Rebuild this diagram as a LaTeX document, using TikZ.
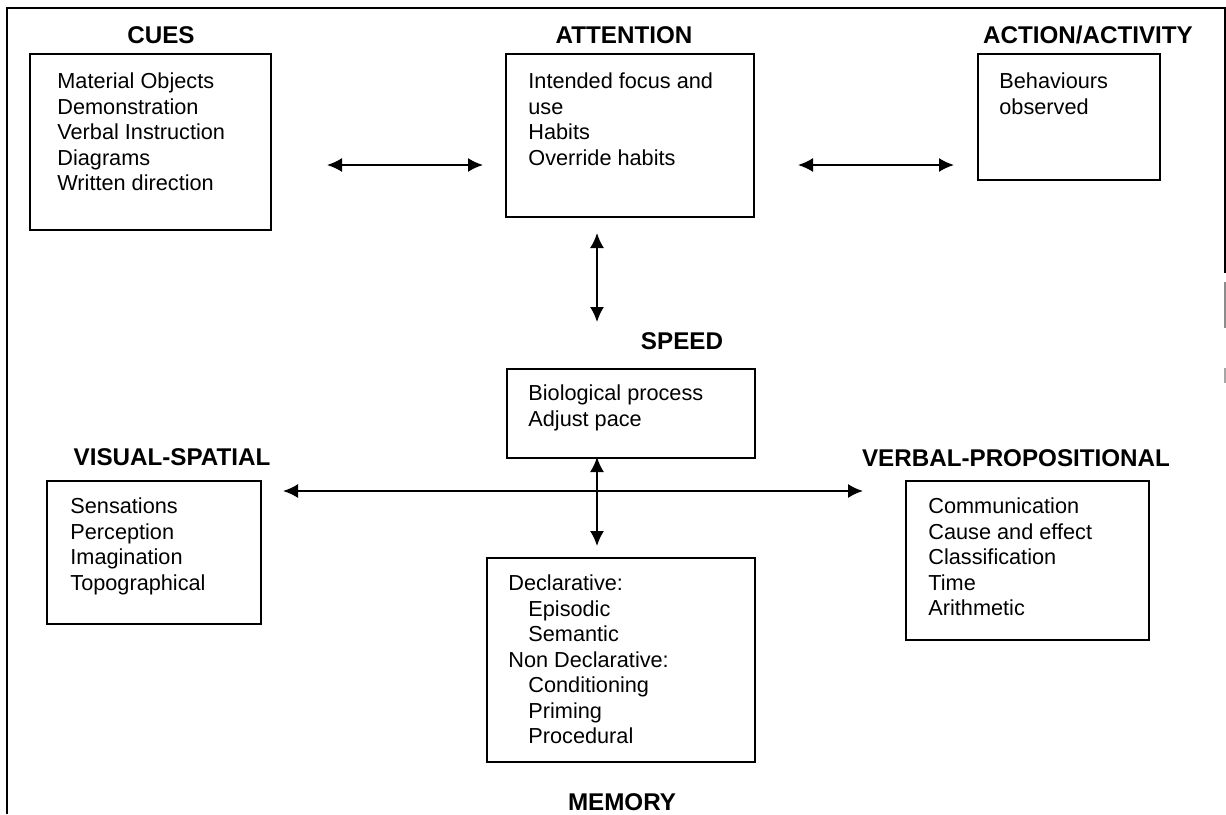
\documentclass[tikz,border=0pt]{standalone}
\usepackage{fontspec}
\setmainfont{Liberation Sans}
\usetikzlibrary{arrows.meta,positioning}

\tikzset{
  box/.style={draw, line width=1pt, inner sep=0pt, anchor=north west},
  head/.style={font=\fontsize{12.1}{14}\selectfont\bfseries, anchor=base, inner sep=0pt},
  txt/.style={font=\fontsize{10.85}{12.75}\selectfont, align=left, anchor=north west, inner sep=0pt},
  link/.style={{Latex[length=7.5pt,width=7pt]}-{Latex[length=7.5pt,width=7pt]}, line width=0.9pt},
  frame/.style={line width=0.8pt},
}

\begin{document}
\begin{tikzpicture}[x=0.5pt,y=-0.5pt]
\useasboundingbox (0,0) rectangle (1226,814);
% outer frame
\draw[frame] (7,814) -- (7,8) -- (1225,8) -- (1225,273);
\draw[frame,black!45] (1225,282) -- (1225,328); % broken right edge
\draw[frame,black!35] (1225,368) -- (1225,383);
% top row
\node[box, minimum width=120.5pt, minimum height=88pt] (cues) at (29,53) {};
\node[head] (cuesT) at (161,43) {CUES};
\node[txt] (cuesL) at (57,72.5) {Material Objects\\Demonstration\\Verbal Instruction\\Diagrams\\Written direction};
\node[box, minimum width=124pt, minimum height=81.5pt] (attn) at (505,53) {};
\node[head] (attnT) at (624,43) {ATTENTION};
\node[txt] (attnL) at (528,72.5) {Intended focus and\\use\\Habits\\Override habits};
\node[box, minimum width=91pt, minimum height=63pt] (act) at (977,53) {};
\node[head] (actT) at (1088,43) {ACTION/ACTIVITY};
\node[txt] (actL) at (999,72.5) {Behaviours\\observed};
% speed
\node[box, minimum width=124pt, minimum height=44.5pt] (speed) at (506,368) {};
\node[head] (speedT) at (682,349) {SPEED};
\node[txt] (speedL) at (528,384.5) {Biological process\\Adjust pace};
% visual / verbal
\node[box, minimum width=107pt, minimum height=71.5pt] (vis) at (46,480) {};
\node[head] (visT) at (172,465) {VISUAL-SPATIAL};
\node[txt] (visL) at (70,497.5) {Sensations\\Perception\\Imagination\\Topographical};
\node[box, minimum width=121.5pt, minimum height=79.5pt] (verb) at (905,480) {};
\node[head] (verbT) at (1016,466) {VERBAL-PROPOSITIONAL};
\node[txt] (verbL) at (928,497.5) {Communication\\Cause and effect\\Classification\\Time\\Arithmetic};
% memory
\node[box, minimum width=134pt, minimum height=102pt] (mem) at (486,557) {};
\node[head] (memT) at (622,810) {MEMORY};
\node[txt] (memL) at (508,574.5) {Declarative:\\\hspace*{10pt}Episodic\\\hspace*{10pt}Semantic\\Non Declarative:\\\hspace*{10pt}Conditioning\\\hspace*{10pt}Priming\\\hspace*{10pt}Procedural};
% arrow ends
\coordinate (cuesE) at (327,165);
\coordinate (attnW) at (483,165);
\coordinate (attnE) at (798,165);
\coordinate (actW) at (954,165);
\coordinate (attnS) at (597,233);
\coordinate (speedN) at (597,322);
\coordinate (speedS) at (597,457);
\coordinate (memN) at (597,546);
\coordinate (visE) at (283,491);
\coordinate (verbW) at (863,491);
% arrows
\draw[link] (cuesE) -- (attnW);
\draw[link] (attnE) -- (actW);
\draw[link] (attnS) -- (speedN);
\draw[link] (speedS) -- (memN);
\draw[link] (visE) -- (verbW);
\end{tikzpicture}
\end{document}
